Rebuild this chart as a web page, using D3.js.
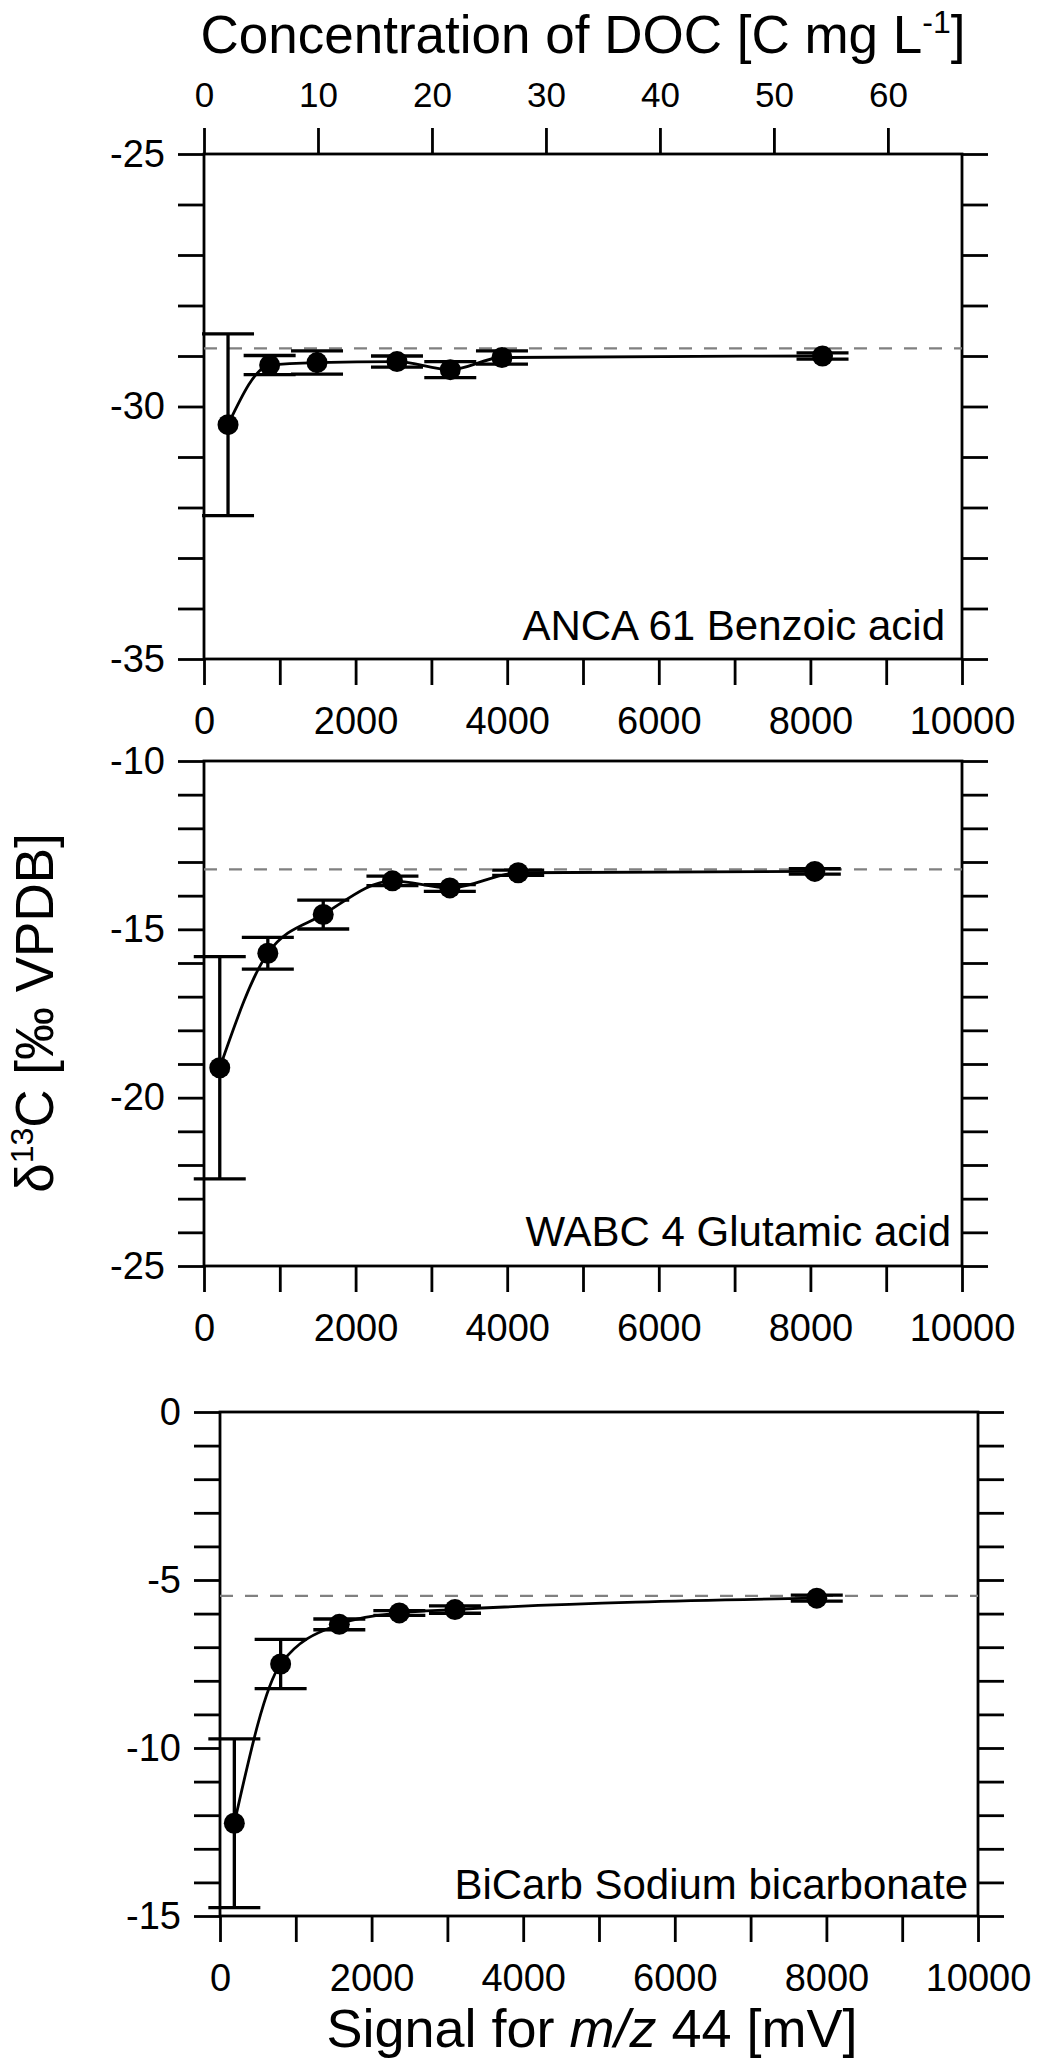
<!DOCTYPE html>
<html>
<head>
<meta charset="utf-8">
<script src="https://cdn.jsdelivr.net/npm/d3@7"></script>
<style>
  body { margin: 0; background: #fff; }
  svg text { font-family: "Liberation Sans", Arial, Helvetica, sans-serif; fill: #000; }
</style>
</head>
<body>
<svg id="chart" width="1038" height="2059"></svg>
<script>
// ANCA 61 Benzoic acid
const ancaSignal = [317, 866, 1491, 2546, 3249, 3931, 8160];
const ancaD13C = [-30.36, -29.18, -29.13, -29.11, -29.27, -29.03, -29.00];
const ancaSD = [1.80, 0.19, 0.23, 0.11, 0.16, 0.13, 0.06];

// WABC 4 Glutamic acid
const wabcSignal = [208, 842, 1573, 2486, 3243, 4145, 8058];
const wabcD13C = [-19.11, -15.71, -14.56, -13.56, -13.77, -13.32, -13.28];
const wabcSD = [3.30, 0.47, 0.43, 0.14, 0.10, 0.08, 0.08];

// BiCarb Sodium bicarbonate
const bicarbSignal = [189, 800, 1574, 2366, 3100, 7873];
const bicarbD13C = [-12.24, -7.50, -6.32, -5.98, -5.88, -5.54];
const bicarbSD = [2.51, 0.73, 0.16, 0.07, 0.11, 0.09];

// reference values (dashed lines)
const refValues = [-28.85, -13.22, -5.47];
const panelNames = ['ANCA 61 Benzoic acid', 'WABC 4 Glutamic acid', 'BiCarb Sodium bicarbonate'];
const yDomains = [[-35, -25], [-25, -10], [-15, 0]];

// signal axis ticks, DOC axis ticks
const signalTicks = d3.range(0, 10001, 1000);
const docTicks = [0, 10, 20, 30, 40, 50, 60];
const docMax = 66.5; // DOC value at 10000 mV

const svg = d3.select('#chart');

// pixel layout of each panel
const layout = [
  { x0: 204, x1: 962, y0: 154, y1: 659, lx: 17, ly: 19 },
  { x0: 204, x1: 962, y0: 761, y1: 1266, lx: 11, ly: 20 },
  { x0: 220, x1: 978, y0: 1412, y1: 1916, lx: 10, ly: 17 }
];

const panels = [
  { signal: ancaSignal, d13c: ancaD13C, sd: ancaSD },
  { signal: wabcSignal, d13c: wabcD13C, sd: wabcSD },
  { signal: bicarbSignal, d13c: bicarbD13C, sd: bicarbSD }
];

function styleAxis(g, fontSize) {
  g.select('.domain').remove();
  g.selectAll('.tick line').attr('stroke', '#000').attr('stroke-width', 2.8);
  g.selectAll('.tick text').attr('font-size', fontSize).attr('fill', '#000');
  g.attr('font-family', null);
}

panels.forEach((p, i) => {
  const L = layout[i];
  const x = d3.scaleLinear().domain([0, 10000]).range([L.x0, L.x1]);
  const y = d3.scaleLinear().domain(yDomains[i]).range([L.y1, L.y0]);
  const g = svg.append('g').attr('class', 'panel');
  const yTicks = d3.range(yDomains[i][0], yDomains[i][1] + 1, 1);

  // axes
  g.append('g')
    .attr('transform', `translate(0,${L.y1})`)
    .call(d3.axisBottom(x).tickValues(signalTicks).tickSize(26).tickSizeOuter(0).tickPadding(22)
      .tickFormat(d => d % 2000 === 0 ? d : ''))
    .call(a => styleAxis(a, 38));

  g.append('g')
    .attr('transform', `translate(${L.x0},0)`)
    .call(d3.axisLeft(y).tickValues(yTicks).tickSize(26).tickSizeOuter(0).tickPadding(13)
      .tickFormat(d => d % 5 === 0 ? d : ''))
    .call(a => styleAxis(a, 38));

  g.append('g')
    .attr('transform', `translate(${L.x1},0)`)
    .call(d3.axisRight(y).tickValues(yTicks).tickSize(26).tickSizeOuter(0).tickFormat(''))
    .call(a => styleAxis(a, 38));

  if (i === 0) {
    const doc = d3.scaleLinear().domain([0, docMax]).range([L.x0, L.x1]);
    g.append('g')
      .attr('transform', `translate(0,${L.y0})`)
      .call(d3.axisTop(doc).tickValues(docTicks).tickSize(26).tickSizeOuter(0).tickPadding(21))
      .call(a => styleAxis(a, 35));
  }

  // frame
  g.append('rect')
    .attr('x', L.x0).attr('y', L.y0)
    .attr('width', L.x1 - L.x0).attr('height', L.y1 - L.y0)
    .attr('fill', 'none').attr('stroke', '#000').attr('stroke-width', 2.8);

  // reference line
  g.append('line')
    .attr('x1', L.x0).attr('x2', L.x1)
    .attr('y1', y(refValues[i])).attr('y2', y(refValues[i]))
    .attr('stroke', '#808080').attr('stroke-width', 2.2)
    .attr('stroke-dasharray', '13,12');

  const pts = p.signal.map((s, k) => ({ s, v: p.d13c[k], sd: p.sd[k] }));

  // error bars
  const eb = g.append('g').attr('stroke', '#000').attr('stroke-width', 3.3);
  eb.selectAll('line.stem').data(pts).join('line')
    .attr('class', 'stem')
    .attr('x1', d => x(d.s)).attr('x2', d => x(d.s))
    .attr('y1', d => y(d.v + d.sd)).attr('y2', d => y(d.v - d.sd));
  eb.selectAll('line.capHi').data(pts).join('line')
    .attr('class', 'capHi')
    .attr('x1', d => x(d.s) - 26).attr('x2', d => x(d.s) + 26)
    .attr('y1', d => y(d.v + d.sd)).attr('y2', d => y(d.v + d.sd));
  eb.selectAll('line.capLo').data(pts).join('line')
    .attr('class', 'capLo')
    .attr('x1', d => x(d.s) - 26).attr('x2', d => x(d.s) + 26)
    .attr('y1', d => y(d.v - d.sd)).attr('y2', d => y(d.v - d.sd));

  // connecting curve
  const line = d3.line().x(d => x(d.s)).y(d => y(d.v)).curve(d3.curveMonotoneX);
  g.append('path').datum(pts)
    .attr('d', line)
    .attr('fill', 'none').attr('stroke', '#000').attr('stroke-width', 2.8);

  // markers
  g.selectAll('circle').data(pts).join('circle')
    .attr('cx', d => x(d.s)).attr('cy', d => y(d.v)).attr('r', 10.5)
    .attr('fill', '#000');

  // panel label
  g.append('text')
    .attr('x', L.x1 - L.lx).attr('y', L.y1 - L.ly)
    .attr('text-anchor', 'end').attr('font-size', 42)
    .text(panelNames[i]);
});

// top title
const title = svg.append('text')
  .attr('x', 583).attr('y', 53)
  .attr('text-anchor', 'middle').attr('font-size', 53);
title.append('tspan').text('Concentration of DOC [C mg L');
title.append('tspan').attr('font-size', 32).attr('dy', -20).text('-1');
title.append('tspan').attr('dy', 20).text(']');

// bottom label
const xlab = svg.append('text')
  .attr('x', 592).attr('y', 2047)
  .attr('text-anchor', 'middle').attr('font-size', 54);
xlab.append('tspan').text('Signal for ');
xlab.append('tspan').attr('font-style', 'italic').text('m/z');
xlab.append('tspan').text(' 44 [mV]');

// y label
const ylab = svg.append('text')
  .attr('transform', 'translate(53,1013) rotate(-90)')
  .attr('text-anchor', 'middle').attr('font-size', 53);
ylab.append('tspan').text('δ');
ylab.append('tspan').attr('font-size', 32).attr('dy', -20).text('13');
ylab.append('tspan').attr('dy', 20).text('C [‰ VPDB]');
</script>
</body>
</html>
